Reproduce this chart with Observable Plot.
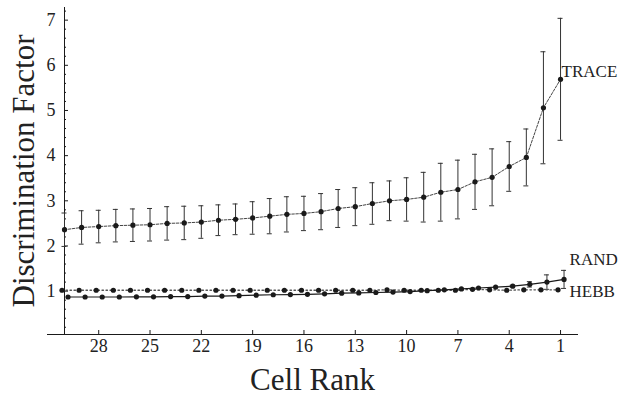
<!DOCTYPE html>
<html><head><meta charset="utf-8">
<script src="https://cdn.jsdelivr.net/npm/d3@7"></script>
<script src="https://cdn.jsdelivr.net/npm/@observablehq/plot@0.6"></script>
<style>html,body{margin:0;padding:0;background:#fff;}</style>
</head><body><div id="chart"></div>
<script>
// Cell rank (x), from 30 down to 1
const ranks = [30,29,28,27,26,25,24,23,22,21,20,19,18,17,16,15,14,13,12,11,10,9,8,7,6,5,4,3,2,1];
// TRACE series: mean and error half-width
const trace    = [2.36,2.41,2.43,2.45,2.46,2.47,2.50,2.51,2.53,2.57,2.59,2.62,2.66,2.70,2.72,2.76,2.83,2.87,2.94,3.00,3.03,3.08,3.19,3.25,3.42,3.52,3.76,3.96,5.06,5.69];
const traceErr = [0.37,0.37,0.36,0.36,0.36,0.36,0.37,0.37,0.36,0.34,0.34,0.36,0.39,0.39,0.38,0.40,0.42,0.42,0.46,0.44,0.48,0.55,0.64,0.65,0.61,0.63,0.55,0.63,1.24,1.35];
// RAND series
const rand     = [0.87,0.87,0.87,0.87,0.875,0.875,0.88,0.88,0.89,0.89,0.90,0.91,0.92,0.925,0.93,0.94,0.955,0.96,0.97,0.98,0.99,1.01,1.03,1.05,1.07,1.09,1.11,1.15,1.20,1.26];
const randErr  = [0,0,0,0,0,0,0,0,0,0,0,0,0,0,0,0,0,0,0,0,0,0,0,0,0,0,0.02,0.06,0.16,0.20];
// HEBB series
const hebb     = [1.02,1.02,1.02,1.02,1.02,1.02,1.02,1.02,1.02,1.02,1.02,1.02,1.02,1.02,1.02,1.02,1.02,1.02,1.02,1.03,1.02,1.02,1.02,1.02,1.04,1.03,1.02,1.03,1.03,1.03];

const seriesNames = ["TRACE","RAND","HEBB"];
const xTicks = [28,25,22,19,16,13,10,7,4,1];
const yTicks = [1,2,3,4,5,6,7];
const yMinorTicks = [0.2,0.4,0.6,0.8,1.2,1.4,1.6,1.8,2.2,2.4,2.6,2.8,3.2,3.4,3.6,3.8,4.2,4.4,4.6,4.8,5.2,5.4,5.6,5.8,6.2,6.4,6.6,6.8,7.2];
const xTitle = "Cell Rank";
const yTitle = "Discrimination Factor";
const xDomain = [30, -0.05];
const yDomain = [0.04, 7.28];

const T = ranks.map((r,i)=>({r, v: trace[i], e: traceErr[i]}));
const R = ranks.map((r,i)=>({r, v: rand[i], e: randErr[i]}));
const H = ranks.map((r,i)=>({r, v: hebb[i]}));
const Rbars = R.filter(d=>d.e>0);
const last = ranks.length-1;

const ink = "#1a1a1a";
const barColor = "#333";
const HEBB_DX = -2.5, RAND_DX = 3.5;
const labelStyle = {textAnchor: "start", fontSize: 17, fill: "#222"};

const chart = Plot.plot({
  width: 620, height: 399,
  marginLeft: 64, marginRight: 42, marginTop: 7, marginBottom: 65,
  x: {domain: xDomain},
  y: {domain: yDomain},
  style: {fontFamily: "'Liberation Serif','Times New Roman','DejaVu Serif',serif", color: "#222", background: "#fff"},
  marks: [
    // axes
    Plot.ruleX([xDomain[0]], {stroke: ink, strokeWidth: 1}),
    Plot.ruleY([yDomain[0]], {stroke: ink, strokeWidth: 1, insetLeft: -17}),
    Plot.ruleY(yTicks, {y: d=>d, x1: ()=>xDomain[0], x2: ()=>xDomain[0], insetRight: -4, stroke: ink}),
    Plot.ruleY(yMinorTicks, {y: d=>d, x1: ()=>xDomain[0], x2: ()=>xDomain[0], insetRight: -2, stroke: ink}),
    Plot.ruleX(xTicks, {x: d=>d, y1: ()=>yDomain[0], y2: ()=>yDomain[0], insetTop: -4, stroke: ink}),
    Plot.axisY(yTicks, {tickSize: 0, tickPadding: 9, fontSize: 18, label: null}),
    Plot.axisX(xTicks, {tickSize: 0, tickPadding: 5, fontSize: 18, label: null}),
    // TRACE error bars
    Plot.ruleX(T, {x: "r", y1: d=>d.v-d.e, y2: d=>d.v+d.e, stroke: barColor, strokeWidth: 1}),
    Plot.ruleY(T, {y: d=>d.v+d.e, x1: "r", x2: "r", insetLeft: -2.5, insetRight: -2.5, stroke: barColor}),
    Plot.ruleY(T, {y: d=>d.v-d.e, x1: "r", x2: "r", insetLeft: -2.5, insetRight: -2.5, stroke: barColor}),
    // RAND error bars
    Plot.ruleX(Rbars, {x: "r", y1: d=>d.v-d.e, y2: d=>d.v+d.e, stroke: barColor, dx: RAND_DX}),
    Plot.ruleY(Rbars, {y: d=>d.v+d.e, x1: "r", x2: "r", insetLeft: -2.5, insetRight: -2.5, stroke: barColor, dx: RAND_DX}),
    Plot.ruleY(Rbars, {y: d=>d.v-d.e, x1: "r", x2: "r", insetLeft: -2.5, insetRight: -2.5, stroke: barColor, dx: RAND_DX}),
    // lines
    Plot.line(T, {x: "r", y: "v", stroke: "#444", strokeWidth: 1, strokeDasharray: "2.5,1.5"}),
    Plot.line(H, {x: "r", y: "v", stroke: "#555", strokeWidth: 1.3, strokeDasharray: "1.5,2.5", dx: HEBB_DX}),
    Plot.line(R, {x: "r", y: "v", stroke: ink, strokeWidth: 1.2, dx: RAND_DX}),
    // points
    Plot.dot(T, {x: "r", y: "v", r: 2.6, fill: ink, stroke: "none"}),
    Plot.dot(H, {x: "r", y: "v", r: 2.6, fill: ink, stroke: "none", dx: HEBB_DX}),
    Plot.dot(R, {x: "r", y: "v", r: 2.6, fill: ink, stroke: "none", dx: RAND_DX}),
    // series labels
    Plot.text([T[last]], {x: "r", y: "v", text: () => seriesNames[0], dx: 1, dy: -7.5, ...labelStyle}),
    Plot.text([R[last]], {x: "r", y: "v", text: () => seriesNames[1], dx: 9, dy: -20, ...labelStyle}),
    Plot.text([H[last]], {x: "r", y: "v", text: () => seriesNames[2], dx: 9, dy: 1.5, ...labelStyle}),
    // titles
    Plot.text([yTitle], {text: d=>d, frameAnchor: "left", rotate: -90, dx: -40, textAnchor: "middle", lineAnchor: "middle", fontSize: 31, fill: "#222"}),
    Plot.text([xTitle], {text: d=>d, frameAnchor: "bottom", dy: 46, dx: -9, textAnchor: "middle", lineAnchor: "middle", fontSize: 31, fill: "#222"})
  ]
});
document.getElementById("chart").appendChild(chart);
</script>
</body></html>
